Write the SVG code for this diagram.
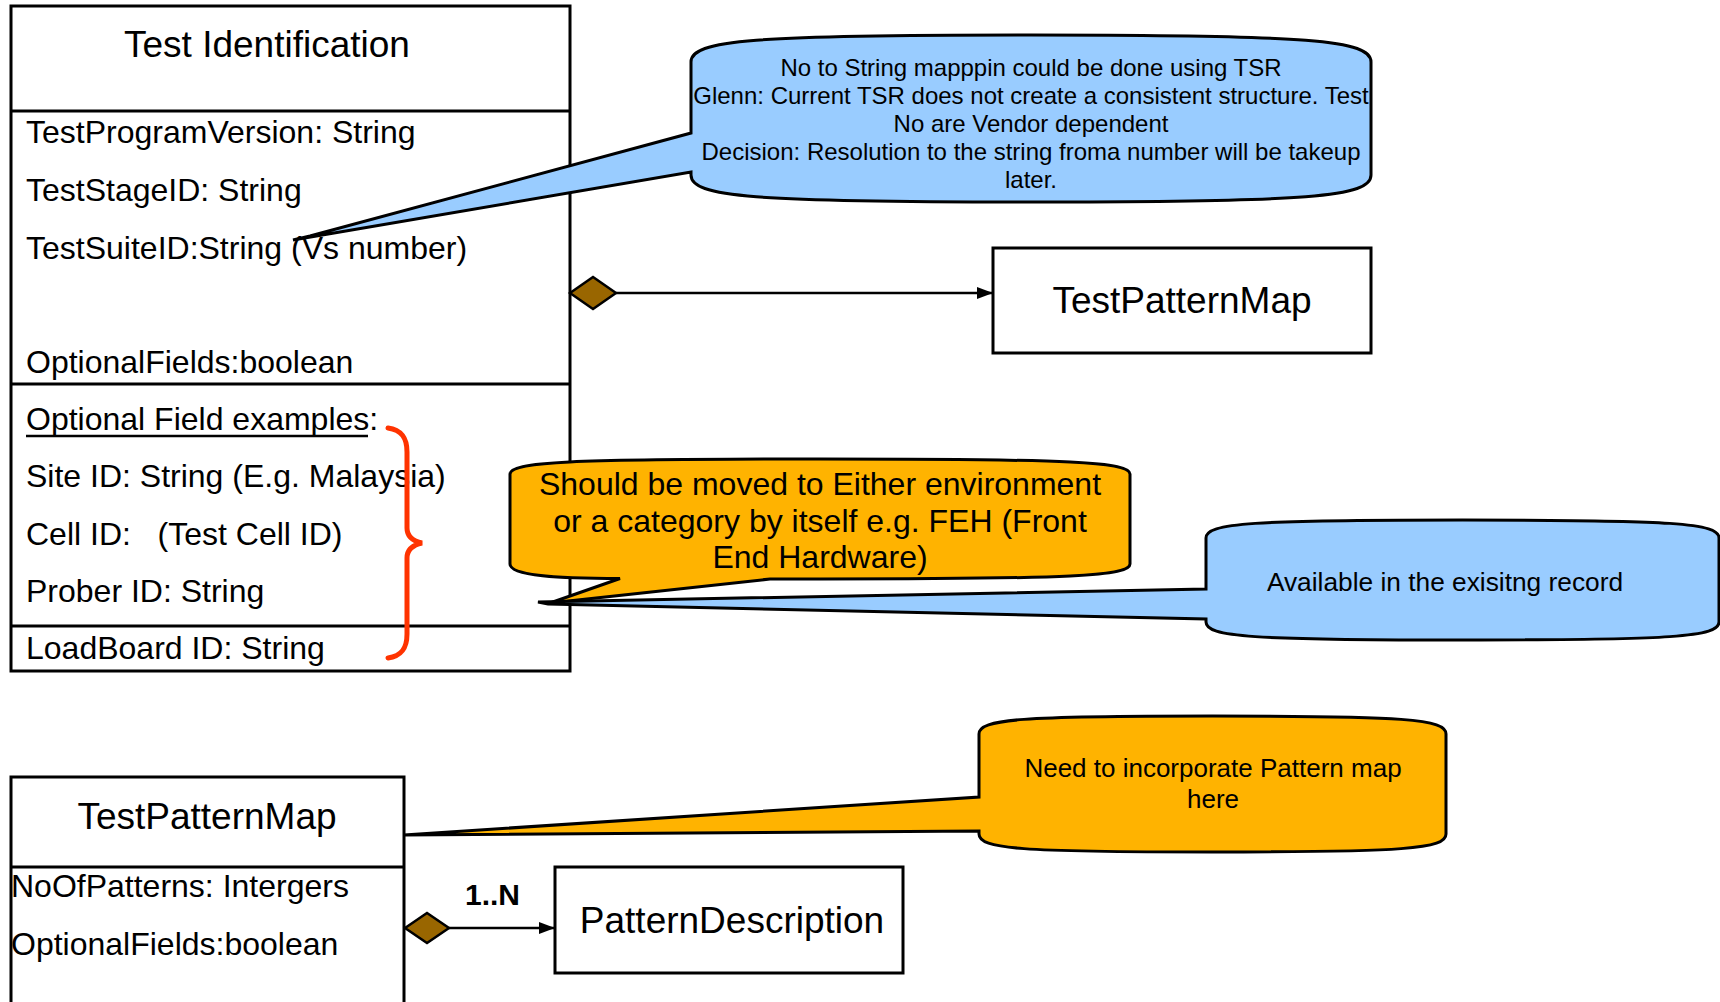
<svg xmlns="http://www.w3.org/2000/svg" width="1720" height="1002" viewBox="0 0 1720 1002">
  <defs>
    <style>
      .box { fill: #ffffff; stroke: #000000; stroke-width: 3; }
      .sep { stroke: #000000; stroke-width: 3; }
      .title { font-family: "Liberation Sans", Arial, sans-serif; font-size: 37px; fill: #000000; text-anchor: middle; }
      .attr { font-family: "Liberation Sans", Arial, sans-serif; font-size: 32px; fill: #000000; white-space: pre; }
      .note-blue { fill: #99CCFF; stroke: #000000; stroke-width: 3; stroke-linejoin: miter; }
      .note-orange { fill: #FFB300; stroke: #000000; stroke-width: 3; stroke-linejoin: miter; }
      .note-text { font-family: "Liberation Sans", Arial, sans-serif; fill: #000000; text-anchor: middle; white-space: pre; }
      .assoc { stroke: #000000; stroke-width: 2.5; fill: none; }
      .agg { fill: #996600; stroke: #000000; stroke-width: 2.5; }
      .mult { font-family: "Liberation Sans", Arial, sans-serif; font-size: 30px; font-weight: bold; fill: #000000; }
    </style>
    <marker id="arrow" markerUnits="userSpaceOnUse" markerWidth="16" markerHeight="12" refX="16" refY="6" orient="auto">
      <path d="M0,0 L16,6 L0,12 Z" fill="#000000"/>
    </marker>
  </defs>

  <rect width="1720" height="1002" fill="#ffffff"/>

  <!-- Test Identification class -->
  <g id="test-identification">
    <rect class="box" x="11" y="6" width="559" height="665"/>
    <line class="sep" x1="11" y1="111" x2="570" y2="111"/>
    <line class="sep" x1="11" y1="384" x2="570" y2="384"/>
    <line class="sep" x1="11" y1="626" x2="570" y2="626"/>
    <text class="title" x="267" y="57">Test Identification</text>
    <text class="attr" x="26" y="143">TestProgramVersion: String</text>
    <text class="attr" x="26" y="201">TestStageID: String</text>
    <text class="attr" x="26" y="259">TestSuiteID:String (Vs number)</text>
    <text class="attr" x="26" y="373">OptionalFields:boolean</text>
    <text class="attr" x="26" y="430">Optional Field examples:</text>
    <line x1="26" y1="436" x2="368" y2="436" stroke="#000000" stroke-width="2.5"/>
    <text class="attr" x="26" y="487">Site ID: String (E.g. Malaysia)</text>
    <text class="attr" x="26" y="545">Cell ID:   (Test Cell ID)</text>
    <text class="attr" x="26" y="602">Prober ID: String</text>
    <text class="attr" x="26" y="659">LoadBoard ID: String</text>
    <!-- brace grouping the optional fields -->
    <path d="M388,428 C402,430 407,438 407,452 L407,528 C407,537 413,541 422,543 C413,545 407,549 407,558 L407,634 C407,648 402,656 388,658" fill="none" stroke="#FF3300" stroke-width="5" stroke-linecap="round"/>
  </g>

  <!-- TestPatternMap reference box -->
  <g id="test-pattern-map-ref">
    <rect class="box" x="993" y="248" width="378" height="105"/>
    <text class="title" x="1182" y="313">TestPatternMap</text>
  </g>

  <!-- TestPatternMap class -->
  <g id="test-pattern-map">
    <rect class="box" x="11" y="777" width="393" height="240"/>
    <line class="sep" x1="11" y1="867" x2="404" y2="867"/>
    <text class="title" x="207" y="829">TestPatternMap</text>
    <text class="attr" x="11" y="897">NoOfPatterns: Intergers</text>
    <text class="attr" x="11" y="955">OptionalFields:boolean</text>
  </g>

  <!-- PatternDescription class -->
  <g id="pattern-description">
    <rect class="box" x="555" y="867" width="348" height="106"/>
    <text class="title" x="732" y="933">PatternDescription</text>
  </g>

  <!-- aggregation connectors -->
  <g id="connectors">
    <line class="assoc" x1="616" y1="293" x2="993" y2="293" marker-end="url(#arrow)"/>
    <polygon class="agg" points="570,293 593,277 616,293 593,309"/>
    <line class="assoc" x1="449" y1="928" x2="555" y2="928" marker-end="url(#arrow)"/>
    <polygon class="agg" points="405,928 427,913 449,928 427,943"/>
    <text class="mult" x="465" y="905">1..N</text>
  </g>

  <!-- note: string mapping -->
  <g id="note-tsr">
    <path class="note-blue" d="M691,62 C691,40 752,35 1031,35 C1310,35 1371,40 1371,62 L1371,175 C1371,197 1310,202 1031,202 C752,202 691,197 691,175 L691,172 L293,240 L310,236 L691,133 Z"/>
    <g class="note-text" font-size="24">
      <text x="1031" y="76">No to String mapppin could be done using TSR</text>
      <text x="1031" y="104">Glenn: Current TSR does not create a consistent structure.  Test</text>
      <text x="1031" y="132">No are Vendor dependent</text>
      <text x="1031" y="160">Decision: Resolution to the string froma number will be takeup</text>
      <text x="1031" y="188">later.</text>
    </g>
  </g>

  <!-- note: optional field placement -->
  <g id="note-feh">
    <path class="note-orange" d="M510,474 C510,462 566,459 820,459 C1074,459 1130,462 1130,474 L1130,564 C1130,576 1074,579 820,579 L770,579 L550,603 L620,578.5 C560,578.5 510,576 510,564 Z"/>
    <g class="note-text" font-size="32">
      <text x="820" y="495">Should be moved to Either environment</text>
      <text x="820" y="532">or a category by itself e.g. FEH (Front</text>
      <text x="820" y="568">End Hardware)</text>
    </g>
  </g>

  <!-- note: existing record -->
  <g id="note-existing">
    <path class="note-blue" d="M1206,538 C1206,523 1252,520 1462.5,520 C1673,520 1719,523 1719,538 L1719,622 C1719,637 1673,640 1462.5,640 C1252,640 1206,637 1206,622 L1206,619 L548,604 L538,602 L1206,589 Z"/>
    <text class="note-text" font-size="26.3" x="1445" y="591">Available in the exisitng record</text>
  </g>

  <!-- note: pattern map -->
  <g id="note-pattern">
    <path class="note-orange" d="M979,734 C979,719 1021,716 1212.5,716 C1404,716 1446,719 1446,734 L1446,834 C1446,849 1404,852 1212.5,852 C1021,852 979,849 979,834 L979,831 L404,835 L979,797 Z"/>
    <g class="note-text" font-size="26">
      <text x="1213" y="777">Need to incorporate Pattern map</text>
      <text x="1213" y="808">here</text>
    </g>
  </g>
</svg>
